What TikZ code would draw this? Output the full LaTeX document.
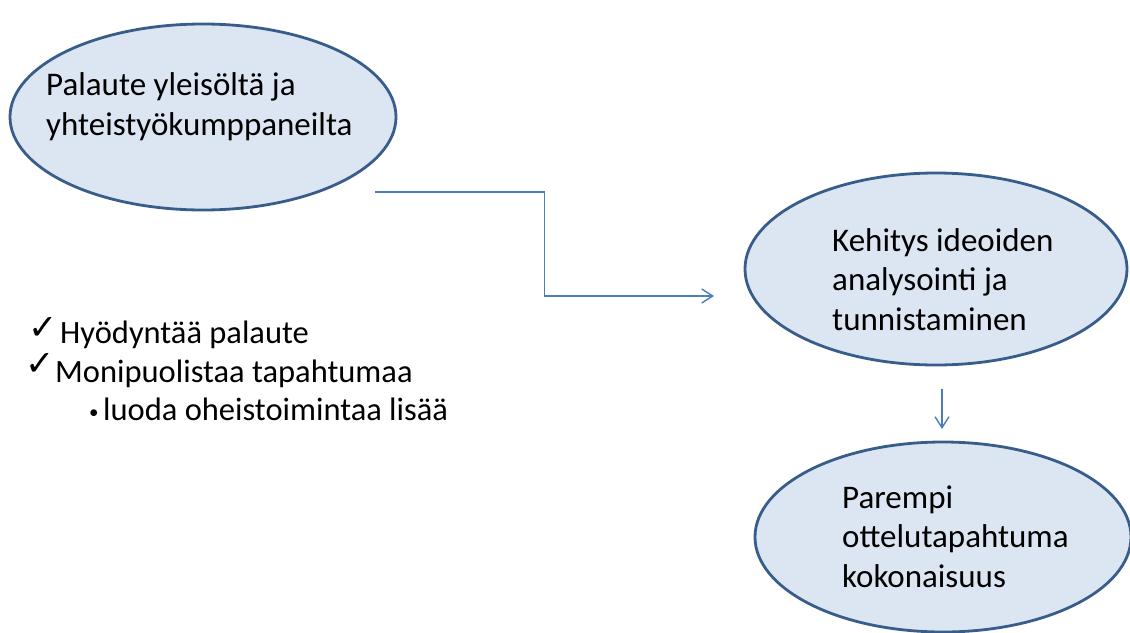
\documentclass[tikz,border=0pt]{standalone}
\usepackage{fontspec}
\setmainfont{Carlito}
\newfontfamily\symfont{DejaVu Sans}
\usetikzlibrary{shapes.geometric,arrows.meta,calc}
\definecolor{fillblue}{RGB}{220,230,242}
\definecolor{edgeblue}{RGB}{56,93,138}
\definecolor{linkblue}{RGB}{74,126,187}
\tikzset{
  bubble/.style={ellipse,draw=edgeblue,fill=fillblue,line width=2.8pt,inner sep=0pt},
  bubbletext/.style={anchor=base west,inner sep=0pt,align=left,font=\fontsize{33}{39.5}\selectfont},
  listtext/.style={anchor=base west,inner sep=0pt,font=\fontsize{32.5}{38}\selectfont},
  checkmark/.style={anchor=base west,inner sep=0pt,font=\symfont\fontsize{35}{38}\selectfont},
  bulletmark/.style={anchor=base west,inner sep=0pt,font=\fontsize{19}{20}\selectfont},
  conn/.style={draw=linkblue,line width=1.4pt,-{Straight Barb[length=11pt,width=14pt,line width=1.4pt]}},
}
\begin{document}
\begin{tikzpicture}[x=1pt,y=-1pt]
\useasboundingbox (0,0) rectangle (1130,632);
\node[bubble,minimum width=386pt,minimum height=186pt] (e1) at (203,117) {};
\node[bubble,minimum width=382pt,minimum height=192pt] (e2) at (936,269) {};
\node[bubble,minimum width=376pt,minimum height=190pt] (e3) at (943,537) {};
\node[bubbletext] (t1) at (46,135) {Palaute yleisöltä ja\\yhteistyökumppaneilta};
\node[bubbletext] (t2) at (832,330) {Kehitys ideoiden\\analysointi ja\\tunnistaminen};
\node[bubbletext] (t3) at (842,587) {Parempi\\ottelutapahtuma\\kokonaisuus};
\coordinate (s1) at (375,192);
\coordinate (f1) at (714,296);
\draw[conn] (s1) -| ($(s1)!0.5!(f1)$) |- (f1);
\coordinate (s2) at (942,389);
\coordinate (f2) at (942,429);
\draw[conn] (s2) -- (f2);
\node[checkmark] (c1) at (28,339) {✓};
\node[listtext] (l1) at (60,343) {Hyödyntää palaute};
\node[checkmark] (c2) at (25,375) {✓};
\node[listtext] (l2) at (55,382) {Monipuolistaa tapahtumaa};
\node[bulletmark] (b3) at (89,418) {•};
\node[listtext] (l3) at (103,420) {luoda oheistoimintaa lisää};
\end{tikzpicture}
\end{document}
